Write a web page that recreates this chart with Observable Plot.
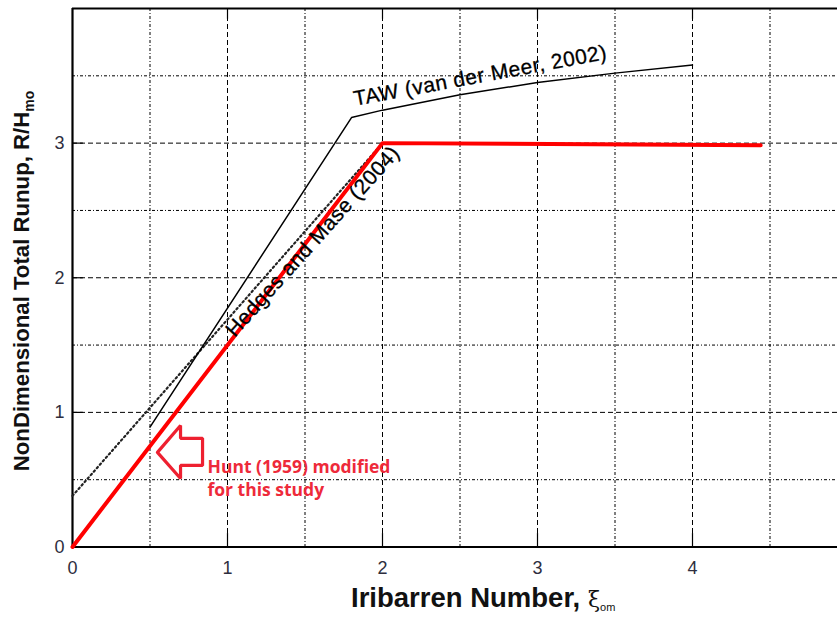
<!DOCTYPE html>
<html>
<head>
<meta charset="utf-8">
<script src="https://cdn.jsdelivr.net/npm/d3@7"></script>
<script src="https://cdn.jsdelivr.net/npm/@observablehq/plot@0.6"></script>
<style>
  html, body { margin: 0; padding: 0; background: #fff; overflow: hidden; }
  #chart { width: 837px; height: 617px; }
</style>
</head>
<body>
<div id="chart"></div>
<script>
// ---- data ----
const xTicks = [0, 1, 2, 3, 4];
const yTicks = [0, 1, 2, 3];
const xGridMajor = [1, 2, 3, 4];
const xGridMinor = [0.5, 1.5, 2.5, 3.5, 4.5];
const yGridMajor = [1, 2, 3];
const yGridMinor = [0.5, 1.5, 2.5, 3.5];

// TAW (van der Meer, 2002)
const tawX = [0.5, 1.8, 2.0, 2.5, 3.0, 3.5, 4.0];
const tawY = [0.89, 3.19, 3.245, 3.36, 3.45, 3.52, 3.58];
// Hedges and Mase (2004)
const hmX = [0, 2.0];
const hmY = [0.38, 3.0];
// Hunt (1959) modified for this study
const huntX = [0, 2.0, 4.44];
const huntY = [0, 3.0, 2.985];

// annotation arrow outline (data units)
const arrowX = [0.548, 0.697, 0.697, 0.839, 0.839, 0.697, 0.697, 0.548];
const arrowY = [0.703, 0.903, 0.807, 0.807, 0.606, 0.606, 0.509, 0.703];

const labels = [
  {x: 2.63, y: 3.5, text: "TAW (van der Meer, 2002)", rotate: -10.5},
  {x: 1.55, y: 2.27, text: "Hedges and Mase (2004)", rotate: -48}
];
const huntLabel = [{x: 0.871, y: 0.67, text: "Hunt (1959) modified\nfor this study"}];

const toPts = (xs, ys) => xs.map((x, i) => ({x, y: ys[i]}));
const taw = toPts(tawX, tawY);
const hm = toPts(hmX, hmY);
const hunt = toPts(huntX, huntY);
const arrow = toPts(arrowX, arrowY);

const W = 837, H = 617;
const mL = 72, mT = 8, mB = 70.5, mR = 0;
const pxPerX = 155;
const xMax = (W - mL - mR) / pxPerX;

const plot = Plot.plot({
  width: W,
  height: H,
  marginLeft: mL,
  marginTop: mT,
  marginBottom: mB,
  marginRight: mR,
  style: {fontFamily: "'Liberation Sans', Arial, sans-serif", background: "#fff", overflow: "visible"},
  x: {domain: [0, xMax], axis: null},
  y: {domain: [0, 4], axis: null},
  marks: [
    // grid
    Plot.ruleX(xGridMinor, {stroke: "#000", strokeWidth: 1, strokeDasharray: "3,2,1,2"}),
    Plot.ruleY(yGridMinor, {stroke: "#000", strokeWidth: 1, strokeDasharray: "3,2,1,2"}),
    Plot.ruleX(xGridMajor, {stroke: "#000", strokeWidth: 1, strokeDasharray: "5,3"}),
    Plot.ruleY(yGridMajor, {stroke: "#000", strokeWidth: 1, strokeDasharray: "5,3"}),
    // inner ticks
    Plot.ruleX(xGridMajor, {y1: 4, y2: 3.92, stroke: "#000", strokeWidth: 1.2}),
    Plot.ruleX(xGridMajor, {y1: 0, y2: 0.1, stroke: "#000", strokeWidth: 1.2}),
    Plot.ruleY(yGridMajor, {x1: 0, x2: 0.07, stroke: "#000", strokeWidth: 1.2}),
    // frame
    Plot.ruleY([0, 4], {stroke: "#000", strokeWidth: 2.2}),
    Plot.ruleX([0], {stroke: "#000", strokeWidth: 2.2}),
    // axes
    Plot.axisX(xTicks, {anchor: "bottom", tickSize: 0, tickPadding: 14, label: null, fontSize: 18, fill: "#2e2e3e", tickFormat: d => String(d)}),
    Plot.axisY(yTicks, {anchor: "left", tickSize: 0, tickPadding: 8, label: null, fontSize: 18, fill: "#2e2e3e", tickFormat: d => String(d)}),
    // curves
    Plot.line(hm, {x: "x", y: "y", stroke: "#222", strokeWidth: 2.2, strokeDasharray: "1.6,3"}),
    Plot.line(taw, {x: "x", y: "y", stroke: "#000", strokeWidth: 1.5}),
    Plot.line(hunt, {x: "x", y: "y", stroke: "#ff0000", strokeWidth: 4}),
    // labels
    Plot.text(labels, {x: "x", y: "y", text: "text", rotate: "rotate", fontSize: 21, fill: "#000", stroke: "#000", strokeWidth: 0.3}),
    Plot.line(arrow, {x: "x", y: "y", stroke: "#ee2030", strokeWidth: 3.2, fill: "none", strokeLinejoin: "miter"}),
    Plot.text(huntLabel, {x: "x", y: "y", text: "text", textAnchor: "start", lineAnchor: "top", fontSize: 17.5, fontWeight: "bold", fill: "#ee2a3a", lineHeight: 1.3, fontFamily: "'Open Sans', sans-serif"})
  ]
});

document.getElementById("chart").appendChild(plot);
// letter spacing for rotated labels
d3.select(plot).selectAll("text").filter(function() { return /TAW|Hedges/.test(this.textContent); }).style("letter-spacing", "0.5px");

// axis titles with subscripts
const svg = d3.select(plot);
const yt = svg.append("text")
  .attr("transform", "translate(29,281) rotate(-90)")
  .attr("text-anchor", "middle")
  .attr("font-family", "'Liberation Sans', Arial, sans-serif")
  .attr("font-weight", "bold")
  .attr("font-size", 22.2)
  .attr("fill", "#111");
yt.append("tspan").text("NonDimensional Total Runup, R/H");
yt.append("tspan").attr("font-size", 14).attr("dy", 5).text("mo");

const xt = svg.append("text")
  .attr("x", 351).attr("y", 607)
  .attr("text-anchor", "start")
  .attr("font-family", "'Liberation Sans', Arial, sans-serif")
  .attr("font-weight", "bold")
  .attr("font-size", 27.5)
  .attr("fill", "#111");
xt.append("tspan").text("Iribarren Number, ");
xt.append("tspan").attr("font-weight", "normal").attr("font-family", "'DejaVu Serif', serif").attr("font-size", 22).text("ξ");
xt.append("tspan").attr("font-weight", "normal").attr("font-size", 11).attr("dy", 4).text("om");
</script>
</body>
</html>
